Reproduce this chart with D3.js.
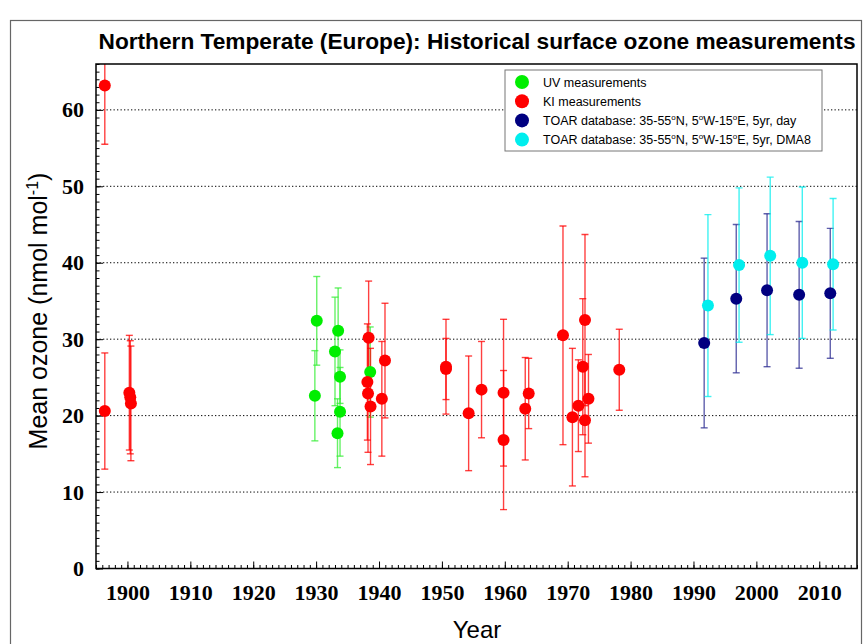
<!doctype html>
<html lang="en">
  <head>
    <meta charset="utf-8">
    <title>Northern Temperate (Europe): Historical surface ozone measurements</title>
    <style>
      body { margin: 0; background: #fff; }
      .axis path { stroke: #000; stroke-width: 1.5; }
      .axis line { stroke: #000; }
      .axis text { font-family: "Liberation Serif", "Times New Roman", serif; font-weight: bold; font-size: 22px; fill: #000; }
    </style>
  </head>
  <body>
    <script src="https://cdn.jsdelivr.net/npm/d3@7"></script>
    <script>

      // UV measurements (green)
      var uvYear = [1930.1, 1929.8, 1933.5, 1933.0, 1933.8, 1933.8, 1933.4, 1938.6];
      var uvMean = [32.4, 22.6, 31.1, 28.4, 25.1, 20.5, 17.7, 25.7];
      var uvErr  = [5.8, 5.9, 5.6, 7.1, 3.5, 5.8, 4.5, 5.9];

      // KI measurements (red)
      var kiYear = [1896.4, 1896.4, 1900.3, 1900.45, 1900.55, 1938.35, 1938.15, 1938.25, 1938.65,
                    1940.95, 1940.45, 1950.65, 1950.65, 1954.25, 1956.3, 1959.8, 1959.8,
                    1963.25, 1963.8, 1969.25, 1970.75, 1971.7, 1972.4, 1972.75, 1972.75, 1973.3, 1978.2];
      var kiMean = [63.2, 20.6, 23.0, 22.4, 21.6, 30.2, 24.4, 22.9, 21.2,
                    27.2, 22.2, 26.4, 26.1, 20.3, 23.4, 23.0, 16.8,
                    20.9, 22.9, 30.5, 19.8, 21.3, 26.4, 32.5, 19.4, 22.2, 26.0];
      var kiErr  = [7.7, 7.6, 7.5, 7.4, 7.5, 7.4, 7.6, 7.7, 7.6,
                    7.5, 7.5, 6.2, 4.0, 7.5, 6.3, 9.6, 9.1,
                    6.7, 4.6, 14.3, 9.0, 6.0, 8.9, 11.2, 7.4, 5.8, 5.3];

      // TOAR database, 5yr, day (navy)
      var dayYear = [1991.7, 1996.8, 2001.7, 2006.8, 2011.75];
      var dayMean = [29.5, 35.3, 36.4, 35.8, 36.0];
      var dayErr  = [11.1, 9.7, 10.0, 9.6, 8.5];

      // TOAR database, 5yr, DMA8 (cyan)
      var dmaYear = [1992.3, 1997.25, 2002.2, 2007.3, 2012.2];
      var dmaMean = [34.4, 39.7, 40.9, 40.0, 39.8];
      var dmaErr  = [11.9, 10.1, 10.3, 9.9, 8.6];

      var xTicks = [1900, 1910, 1920, 1930, 1940, 1950, 1960, 1970, 1980, 1990, 2000, 2010];
      var yTicks = [0, 10, 20, 30, 40, 50, 60];

      var series = [
        {name: "UV measurements", color: "#00ee00", bar: "#33ee33", year: uvYear, mean: uvMean, err: uvErr},
        {name: "KI measurements", color: "#ff0000", bar: "#ff0000", year: kiYear, mean: kiMean, err: kiErr},
        {name: "day", color: "#000080", bar: "#2a2a90", year: dayYear, mean: dayMean, err: dayErr},
        {name: "DMA8", color: "#00eeee", bar: "#00eeee", year: dmaYear, mean: dmaMean, err: dmaErr}
      ];

      var W = 866, H = 644;
      var plotL = 96, plotR = 857, plotT = 64, plotB = 568.5;

      var svg = d3.select("body").append("svg")
        .attr("width", W)
        .attr("height", H);

      // outer frame of the figure
      svg.append("rect")
        .attr("x", 10.5).attr("y", 20.5)
        .attr("width", 851).attr("height", 700)
        .attr("fill", "none").attr("stroke", "#666").attr("stroke-width", 1.2);

      var x = d3.scaleLinear().domain([1895, 2016]).range([plotL, plotR]);
      var y = d3.scaleLinear().domain([0, 66]).range([plotB, plotT]);

      svg.append("clipPath").attr("id", "plotclip")
        .append("rect")
        .attr("x", plotL).attr("y", plotT)
        .attr("width", plotR - plotL).attr("height", plotB - plotT);

      // dotted grid
      svg.append("g").selectAll("line")
        .data(yTicks.filter(function(d){ return d > 0; }))
        .enter().append("line")
        .attr("x1", plotL).attr("x2", plotR)
        .attr("y1", function(d){ return y(d); })
        .attr("y2", function(d){ return y(d); })
        .attr("stroke", "#000")
        .attr("stroke-width", 1)
        .attr("stroke-dasharray", "1.3,2.2");

      // minor ticks
      svg.append("g").attr("class", "axis")
        .attr("transform", "translate(" + plotL + ",0)")
        .call(d3.axisLeft(y).tickValues(d3.range(0, 67, 1)).tickSize(-3.5).tickFormat(""))
        .select(".domain").remove();
      svg.append("g").attr("class", "axis")
        .attr("transform", "translate(0," + plotB + ")")
        .call(d3.axisBottom(x).tickValues(d3.range(1895, 2017, 1)).tickSize(-3.5).tickFormat(""))
        .select(".domain").remove();

      // major ticks + labels
      svg.append("g").attr("class", "axis")
        .attr("transform", "translate(" + plotL + ",0)")
        .call(d3.axisLeft(y).tickValues(yTicks).tickSize(-7).tickSizeOuter(0).tickPadding(12))
        .select(".domain").remove();
      svg.append("g").attr("class", "axis")
        .attr("transform", "translate(0," + plotB + ")")
        .call(d3.axisBottom(x).tickValues(xTicks).tickFormat(d3.format("d")).tickSize(-7).tickSizeOuter(0).tickPadding(16))
        .select(".domain").remove();

      // error bars and points
      var plot = svg.append("g").attr("clip-path", "url(#plotclip)");
      var cap = 3.5;

      series.forEach(function(s){
        var pts = s.year.map(function(yr, i){ return {year: yr, mean: s.mean[i], err: s.err[i]}; });
        var g = plot.append("g")
          .attr("stroke", s.bar)
          .attr("stroke-width", 1.4)
          .attr("stroke-opacity", 0.75);
        g.selectAll(".v").data(pts).enter().append("line")
          .attr("x1", function(d){ return x(d.year); })
          .attr("x2", function(d){ return x(d.year); })
          .attr("y1", function(d){ return y(d.mean - d.err); })
          .attr("y2", function(d){ return y(d.mean + d.err); });
        g.selectAll(".lo").data(pts).enter().append("line")
          .attr("x1", function(d){ return x(d.year) - cap; })
          .attr("x2", function(d){ return x(d.year) + cap; })
          .attr("y1", function(d){ return y(d.mean - d.err); })
          .attr("y2", function(d){ return y(d.mean - d.err); });
        g.selectAll(".hi").data(pts).enter().append("line")
          .attr("x1", function(d){ return x(d.year) - cap; })
          .attr("x2", function(d){ return x(d.year) + cap; })
          .attr("y1", function(d){ return y(d.mean + d.err); })
          .attr("y2", function(d){ return y(d.mean + d.err); });
      });

      series.forEach(function(s){
        plot.append("g").selectAll("circle")
          .data(s.year.map(function(yr, i){ return {year: yr, mean: s.mean[i]}; }))
          .enter().append("circle")
          .attr("cx", function(d){ return x(d.year); })
          .attr("cy", function(d){ return y(d.mean); })
          .attr("r", 6)
          .attr("fill", s.color);
      });

      // plot frame
      svg.append("rect")
        .attr("x", plotL).attr("y", plotT)
        .attr("width", plotR - plotL).attr("height", plotB - plotT)
        .attr("fill", "none").attr("stroke", "#000").attr("stroke-width", 1.5);

      // legend
      var lg = svg.append("g").attr("transform", "translate(505,70)");
      lg.append("rect")
        .attr("x", 0).attr("y", 0).attr("width", 317).attr("height", 81)
        .attr("fill", "#fff").attr("stroke", "#777").attr("stroke-width", 1);

      var legendText = [
        ["UV measurements"],
        ["KI measurements"],
        ["TOAR database: 35-55", "o", "N, 5", "o", "W-15", "o", "E, 5yr, day"],
        ["TOAR database: 35-55", "o", "N, 5", "o", "W-15", "o", "E, 5yr, DMA8"]
      ];
      legendText.forEach(function(parts, i){
        var row = lg.append("g").attr("transform", "translate(0," + (12 + i * 19.2) + ")");
        row.append("circle").attr("cx", 17).attr("cy", 0).attr("r", 7).attr("fill", series[i].color);
        var t = row.append("text")
          .attr("x", 38).attr("y", 4.5)
          .style("font-family", "Liberation Sans, Arial, sans-serif")
          .style("font-size", "12.5px")
          .attr("fill", "#000");
        parts.forEach(function(p, j){
          if (j % 2 === 1) {
            t.append("tspan").attr("dy", -5).style("font-size", "8px").text(p);
          } else {
            t.append("tspan").attr("dy", j > 0 ? 5 : 0).text(p);
          }
        });
      });

      // title
      svg.append("text")
        .attr("x", 477).attr("y", 49)
        .attr("text-anchor", "middle")
        .attr("textLength", 757)
        .attr("lengthAdjust", "spacingAndGlyphs")
        .style("font-family", "Liberation Sans, Arial, sans-serif")
        .style("font-weight", "bold")
        .style("font-size", "22px")
        .text("Northern Temperate (Europe): Historical surface ozone measurements");

      // axis titles
      svg.append("text")
        .attr("x", 477).attr("y", 638)
        .attr("text-anchor", "middle")
        .style("font-family", "Liberation Sans, Arial, sans-serif")
        .style("font-size", "24px")
        .text("Year");

      var yt = svg.append("text")
        .attr("transform", "translate(47,311) rotate(-90)")
        .attr("text-anchor", "middle")
        .style("font-family", "Liberation Sans, Arial, sans-serif")
        .style("font-size", "25px");
      yt.append("tspan").text("Mean ozone (nmol mol");
      yt.append("tspan").attr("dy", -9).style("font-size", "16px").text("-1");
      yt.append("tspan").attr("dy", 9).text(")");

    </script>
  </body>
</html>
